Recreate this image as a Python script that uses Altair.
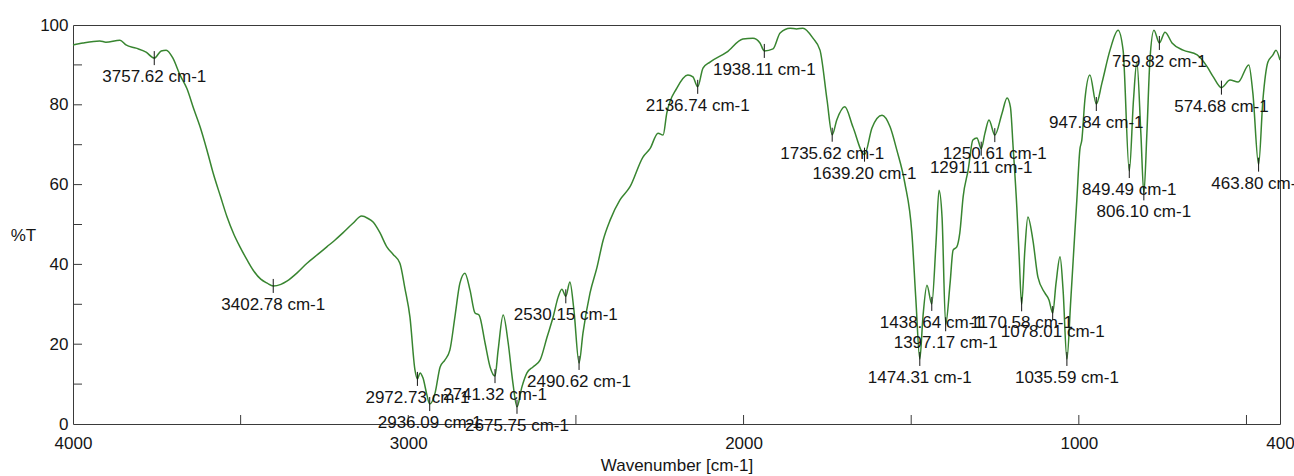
import altair as alt
import pandas as pd

# FT-IR transmittance spectrum (wavenumber in cm-1, %T)
WAVENUMBER = [
    4000, 3970, 3920, 3902, 3860, 3842, 3812, 3782, 3757.62, 3737, 3722, 3702,
    3681, 3660, 3640, 3621, 3600, 3582, 3560, 3541, 3520, 3502, 3480, 3463,
    3440, 3421, 3402.78, 3380, 3362, 3330, 3302, 3270, 3243, 3220, 3195, 3165,
    3139, 3120, 3105, 3085, 3064, 3045, 3025, 3010, 2995, 2980, 2972.73, 2965,
    2956, 2945, 2936.09, 2920, 2905, 2891, 2876, 2861, 2846, 2831, 2816, 2801,
    2789, 2771, 2756, 2741.32, 2732, 2717, 2702, 2688, 2675.75, 2661, 2646,
    2628, 2607, 2586, 2568, 2553, 2542, 2530.15, 2518, 2506, 2490.62, 2479,
    2458, 2437, 2419, 2398, 2369, 2339, 2300, 2279, 2255, 2240, 2229, 2199,
    2166, 2151, 2136.74, 2121, 2100, 2050, 2002, 1972, 1951, 1938.11, 1912,
    1891, 1861, 1842, 1823, 1793, 1772, 1751, 1735.62, 1722, 1698, 1674,
    1639.20, 1617, 1587, 1563, 1543, 1519, 1498, 1486, 1474.31, 1465, 1453,
    1438.64, 1426, 1417, 1408, 1397.17, 1384, 1375, 1364, 1355, 1345, 1330,
    1316, 1304, 1291.11, 1280, 1268, 1250.61, 1229, 1214, 1204, 1196, 1185,
    1178, 1170.58, 1161, 1152, 1137, 1122, 1101, 1089, 1078.01, 1068, 1056,
    1047, 1035.59, 1024, 1012, 1006, 997, 991, 982, 967, 947.84, 931, 907, 883,
    868, 849.49, 837, 827, 815, 806.10, 797, 788, 776, 759.82, 743, 722, 689,
    647, 617, 599, 574.68, 549, 525, 493, 481, 463.80, 451, 436, 421, 412, 400,
]
TRANSMITTANCE = [
    95.0, 95.5, 96.0, 95.7, 96.2, 95.0, 94.2, 93.2, 91.7, 93.5, 93.7, 91.7,
    87.5, 84.0, 79.0, 74.5, 68.5, 62.9, 57.0, 52.0, 47.5, 44.4, 41.0, 38.6,
    36.3, 35.3, 34.6, 35.0, 35.8, 38.0, 40.3, 42.5, 44.4, 46.0, 47.9, 50.3,
    52.1, 51.5, 50.6, 48.0, 44.4, 42.5, 40.3, 34.0, 26.8, 13.5, 11.3, 12.8,
    11.5, 7.5, 5.0, 7.8, 14.3, 16.0, 18.5, 26.8, 35.3, 37.8, 33.6, 27.8,
    27.3, 20.3, 14.3, 12.0, 18.5, 27.3, 20.3, 10.3, 4.3, 9.3, 12.8,
    14.3, 16.0, 21.8, 26.8, 31.8, 33.8, 32.0, 35.6, 28.6, 15.3, 22.8,
    32.8, 39.3, 46.0, 51.1, 56.1, 59.4, 66.9, 69.0, 72.9, 72.4, 77.9, 84.2,
    87.5, 87.0, 84.5, 89.2, 90.7, 93.2, 96.5, 96.7, 95.5, 93.5, 94.0,
    98.0, 99.2, 99.0, 99.2, 96.7, 93.7, 81.2, 72.5, 76.2, 79.5, 74.5,
    67.5, 74.2, 77.4, 74.5, 68.7, 60.4, 47.9, 31.1, 16.3, 26.8, 34.8,
    30.1, 45.4, 58.6, 51.9, 25.0, 35.3, 43.6, 44.4, 47.9, 57.0, 63.7,
    71.2, 71.7, 69.0, 72.9, 76.2, 72.4, 77.9, 81.7, 79.4, 69.4, 54.4,
    42.0, 30.0, 43.6, 51.9, 46.1, 36.8, 32.8, 31.1, 27.8, 35.3, 41.9,
    33.6, 16.3, 31.1, 47.9, 56.1, 68.7, 71.2, 81.2, 87.5, 80.2, 85.5, 93.7, 98.7,
    93.7, 63.4, 81.2, 90.7, 72.9, 57.8, 72.9, 91.2, 98.7, 95.5, 98.2, 95.5, 93.7,
    92.5, 89.5, 87.0, 84.3, 86.2, 85.7, 90.0, 83.0, 65.0, 81.2, 90.7, 92.5, 93.7, 91.2,
]

# Picked peaks
PEAK_WAVENUMBER = [
    3757.62, 3402.78, 2972.73, 2936.09, 2741.32, 2675.75, 2530.15, 2490.62,
    2136.74, 1938.11, 1735.62, 1639.20, 1474.31, 1438.64, 1397.17, 1291.11,
    1250.61, 1170.58, 1078.01, 1035.59, 947.84, 849.49, 806.10, 759.82,
    574.68, 463.80,
]

# Axis ticks and labels
X_TICKS = [3500, 3000, 2500, 2000, 1500, 1000, 500]
X_LABELS = [4000, 3000, 2000, 1000, 400]
Y_TICKS = [10, 20, 30, 40, 50, 60, 70, 80, 90]
Y_LABELS = [0, 20, 40, 60, 80, 100]

FONT = "Liberation Sans"
GREEN = "#388530"
INK = "#151515"
FRAME = "#3a3a3a"

spectrum = pd.DataFrame({"wavenumber": WAVENUMBER, "T": TRANSMITTANCE})
t_at = dict(zip(WAVENUMBER, TRANSMITTANCE))
peaks = pd.DataFrame({
    "wavenumber": PEAK_WAVENUMBER,
    "T": [t_at[w] for w in PEAK_WAVENUMBER],
    "label": [f"{w:.2f} cm-1" for w in PEAK_WAVENUMBER],
})
x_ticks = pd.DataFrame({"wavenumber": X_TICKS})
y_ticks = pd.DataFrame({"T": Y_TICKS})

x_scale = alt.Scale(domain=[400, 4000], reverse=True, nice=False, zero=False)
y_scale = alt.Scale(domain=[0, 100], nice=False, zero=True)

x_axis = alt.Axis(
    values=X_LABELS, format="d", title="Wavenumber [cm-1]", ticks=False,
    domain=False, grid=False, labelPadding=11, labelOverlap=False,
    labelFlush=False, titleY=41, titleBaseline="middle",
)
y_axis = alt.Axis(
    values=Y_LABELS, format="d", title="%T", ticks=False, domain=False,
    grid=False, labelPadding=5, labelOverlap=False, labelFlush=False,
    titleAngle=0, titleX=-50, titleY=210, titleAlign="center",
    titleBaseline="middle",
)

line = alt.Chart(spectrum).mark_line(
    color=GREEN, strokeWidth=1.5, interpolate="monotone"
).encode(
    x=alt.X("wavenumber:Q", scale=x_scale, axis=x_axis),
    y=alt.Y("T:Q", scale=y_scale, axis=y_axis),
)

# inward tick marks along the bottom and left edges
x_tick_marks = alt.Chart(x_ticks).mark_rule(
    color=FRAME, strokeWidth=1, y2Offset=-9
).encode(
    x="wavenumber:Q", y=alt.datum(0), y2=alt.datum(0)
)
y_tick_marks = alt.Chart(y_ticks).mark_rule(
    color=FRAME, strokeWidth=1, x2Offset=9
).encode(
    y="T:Q", x=alt.datum(4000), x2=alt.datum(4000)
)

peak_marks = alt.Chart(peaks).mark_rule(
    color=INK, strokeWidth=1, yOffset=-7, y2Offset=7
).encode(x="wavenumber:Q", y="T:Q", y2="T")

peak_labels = alt.Chart(peaks).mark_text(
    font=FONT, fontSize=17, color=INK, align="center", baseline="middle", dy=19
).encode(x="wavenumber:Q", y="T:Q", text="label:N")

chart = alt.layer(
    line, x_tick_marks, y_tick_marks, peak_marks, peak_labels
).properties(
    width=1207,
    height=399,
    autosize=alt.AutoSizeParams(type="none"),
    padding={"left": 73, "top": 25, "right": 14, "bottom": 52},
    background="white",
).configure_view(
    stroke=FRAME, strokeWidth=1
).configure_axis(
    labelFont=FONT, labelFontSize=17, labelColor=INK,
    titleFont=FONT, titleFontSize=17, titleFontWeight="normal", titleColor=INK,
)

chart.save("out.html", embed_options={"renderer": "svg", "actions": False})
